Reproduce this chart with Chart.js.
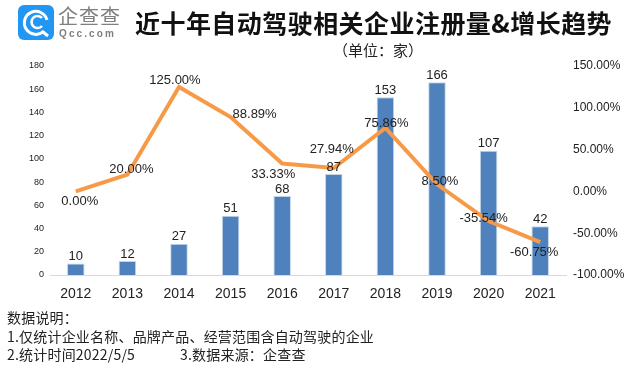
<!DOCTYPE html>
<html>
<head>
<meta charset="utf-8">
<script src="https://cdn.jsdelivr.net/npm/chart.js@4"></script>
<style>
  html, body { margin: 0; padding: 0; background: #fff; overflow: hidden; }
  #wrap { position: relative; width: 643px; height: 370px; font-family: "Noto Sans CJK SC", sans-serif; }
  #myChart { position: absolute; left: 0; top: 0; }
  .txt { position: absolute; white-space: nowrap; line-height: 1; }
  #title { left: 135px; top: 10px; font-size: 25px; font-weight: 700; color: #111; letter-spacing: 0.45px; }
  #unit { left: 333px; top: 42px; font-size: 15px; color: #222; }
  .note { left: 7px; font-size: 14px; color: #222; letter-spacing: 0.2px; }
  #logoCn { left: 58px; top: 6px; font-size: 20px; color: #808080; letter-spacing: 1px; }
  #logoEn { left: 59px; top: 29px; font-size: 10px; font-family: "Liberation Sans", sans-serif; font-weight: 700; color: #808080; letter-spacing: 2.1px; }
  #logo { position: absolute; left: 18px; top: 5px; }
</style>
</head>
<body>
<div id="wrap">
  <canvas id="myChart" width="643" height="370"></canvas>
  <svg id="logo" width="36" height="35" viewBox="0 0 36 35">
    <rect width="36" height="35" rx="6" fill="#2196f3"/>
    <path d="M26 26 A11.5 11.5 0 1 1 29 15" fill="none" stroke="#fff" stroke-width="3"/>
    <path d="M24 21 A6 6 0 1 1 24 13" fill="none" stroke="#fff" stroke-width="2.6"/>
    <path d="M25 27 L30 31" stroke="#fff" stroke-width="3"/>
  </svg>
  <div class="txt" id="logoCn">企查查</div>
  <div class="txt" id="logoEn">Qcc.com</div>
  <div class="txt" id="title">近十年自动驾驶相关企业注册量&amp;增长趋势</div>
  <div class="txt" id="unit">（单位：家）</div>
  <div class="txt note" style="top:310px">数据说明：</div>
  <div class="txt note" style="top:329px">1.仅统计企业名称、品牌产品、经营范围含自动驾驶的企业</div>
  <div class="txt note" style="top:347px">2.统计时间2022/5/5</div>
  <div class="txt note" style="top:347px;left:180px">3.数据来源：企查查</div>
</div>
<script>
const years = ['2012', '2013', '2014', '2015', '2016', '2017', '2018', '2019', '2020', '2021'];
const companies = [10, 12, 27, 51, 68, 87, 153, 166, 107, 42];
const growth = [0, 20, 125, 88.89, 33.33, 27.94, 75.86, 8.5, -35.54, -60.75];

// nudges so the percent labels sit where they do in the original
const growthLabelShift = [[4, 10], [4, -5], [-4, -6], [24, -3], [-9, 11], [-2, -19], [1, -5], [3, -3], [-5, -3], [-6, 10]];

const dataLabels = {
    id: 'dataLabels',
    afterDatasetsDraw(chart) {
        const ctx = chart.ctx;
        ctx.save();
        ctx.fillStyle = '#222';
        ctx.textAlign = 'center';
        ctx.textBaseline = 'middle';
        ctx.font = '13px "Liberation Sans"';

        chart.getDatasetMeta(1).data.forEach((bar, i) => {
            ctx.fillText(companies[i], bar.x, bar.y - 7);
        });

        chart.getDatasetMeta(0).data.forEach((pt, i) => {
            const s = growthLabelShift[i];
            ctx.fillText(growth[i].toFixed(2) + '%', pt.x + s[0], pt.y + s[1]);
        });
        ctx.restore();
    }
};

new Chart(document.getElementById('myChart'), {
    type: 'bar',
    data: {
        labels: years,
        datasets: [
            {
                type: 'line',
                data: growth,
                yAxisID: 'y1',
                borderColor: '#f79a47',
                borderWidth: 4,
                pointRadius: 0,
                tension: 0,
                order: 0
            },
            {
                type: 'bar',
                data: companies,
                yAxisID: 'y',
                backgroundColor: '#4f81bd',
                borderColor: '#c5d5e8',
                borderWidth: { left: 1, right: 1, top: 1, bottom: 0 },
                categoryPercentage: 1,
                barPercentage: 0.34,
                order: 1
            }
        ]
    },
    options: {
        responsive: false,
        animation: false,
        layout: { padding: { top: 66, bottom: 65, left: 0, right: 0 } },
        plugins: { legend: { display: false }, tooltip: { enabled: false } },
        scales: {
            x: {
                grid: { display: false },
                border: { color: '#d9d9d9', width: 1 },
                ticks: { color: '#222', font: { family: 'Liberation Sans', size: 14 }, padding: 3, maxRotation: 0 },
                afterFit(scale) { scale.height = 30; }
            },
            y: {
                position: 'left',
                min: 0,
                max: 180,
                grid: { display: false },
                border: { display: false },
                ticks: { stepSize: 20, color: '#222', font: { family: 'Liberation Sans', size: 9 }, padding: -2 },
                afterFit(scale) { scale.width = 50; }
            },
            y1: {
                position: 'right',
                min: -100,
                max: 150,
                grid: { display: false },
                border: { display: false },
                ticks: {
                    stepSize: 50,
                    color: '#222',
                    font: { family: 'Liberation Sans', size: 12 },
                    padding: -1,
                    callback: v => v.toFixed(2) + '%'
                },
                afterFit(scale) { scale.width = 77; }
            }
        }
    },
    plugins: [dataLabels]
});
</script>
</body>
</html>
